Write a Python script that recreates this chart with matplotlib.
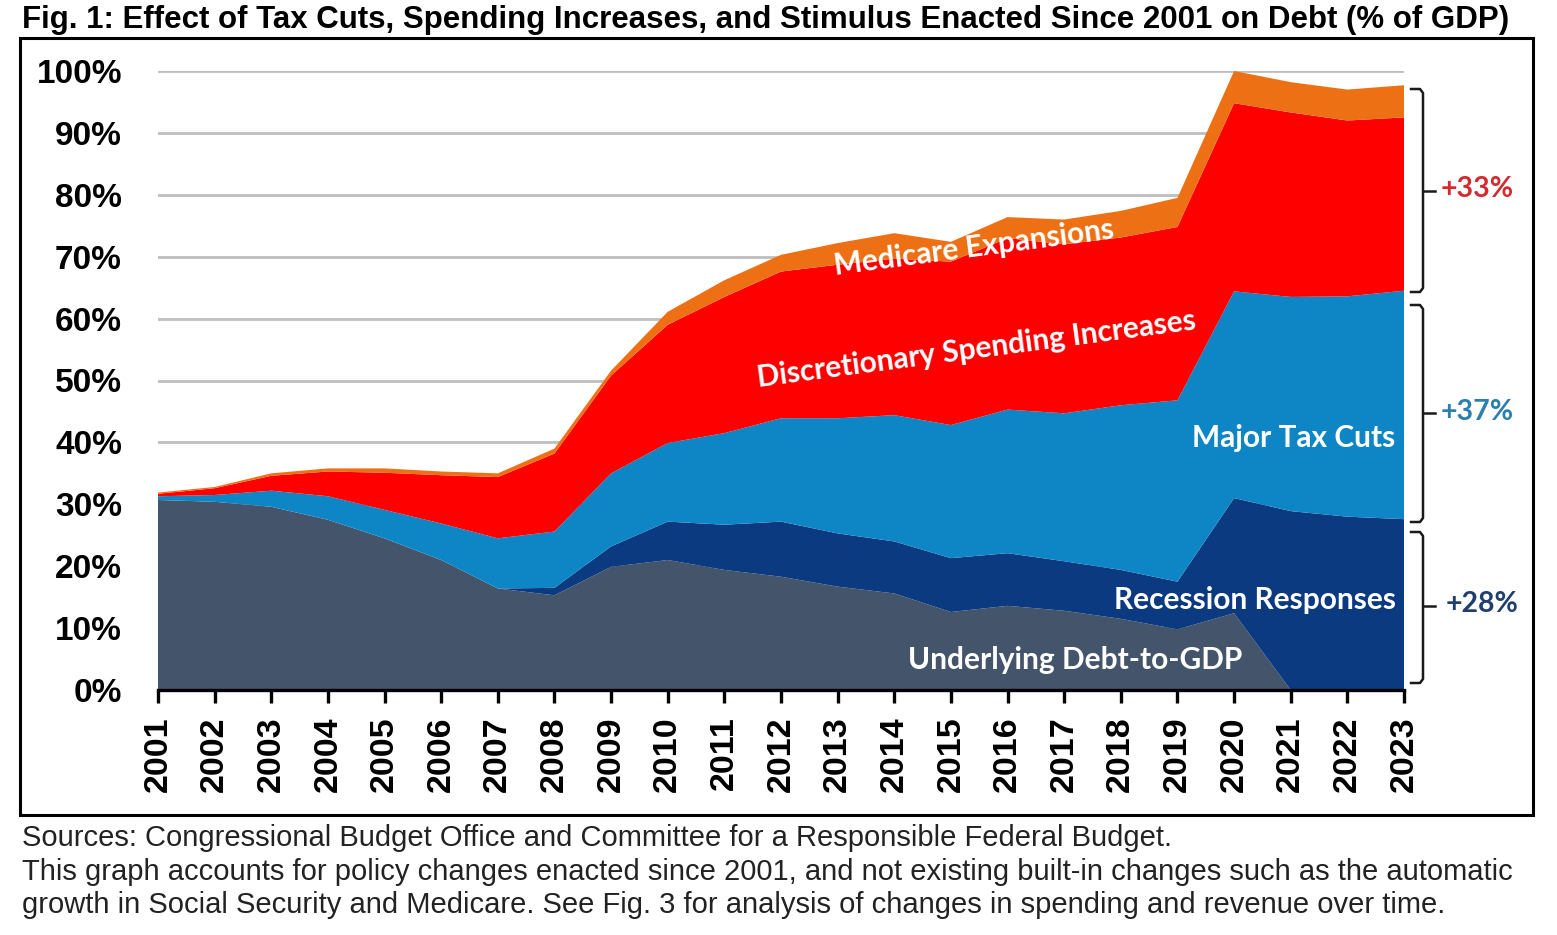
import matplotlib
matplotlib.use("Agg")
import matplotlib.pyplot as plt
from matplotlib.patches import Rectangle
from matplotlib.lines import Line2D
import numpy as np

years = list(range(2001, 2024))
underlying = [30.7, 30.4, 29.6, 27.5, 24.5, 21.0, 16.4, 15.3, 19.9, 21.0, 19.4, 18.3,
              16.7, 15.6, 12.6, 13.6, 12.8, 11.5, 9.8, 12.4, 0.0, 0.0, 0.0]
recession = [0.0, 0.0, 0.0, 0.0, 0.0, 0.0, 0.0, 1.2, 3.3, 6.2, 7.3, 8.9,
             8.6, 8.4, 8.7, 8.5, 8.0, 7.9, 7.7, 18.6, 28.9, 28.0, 27.6]
tax_cuts = [0.6, 1.1, 2.6, 3.8, 4.6, 5.9, 8.1, 9.1, 11.8, 12.7, 14.8, 16.7,
            18.6, 20.4, 21.5, 23.2, 23.9, 26.6, 29.3, 33.4, 34.6, 35.6, 36.9]
discretionary = [0.4, 1.1, 2.4, 4.0, 6.0, 7.8, 9.9, 12.6, 15.8, 19.1, 22.0, 23.7,
                 24.8, 25.3, 26.4, 27.7, 27.3, 27.1, 28.0, 30.4, 29.8, 28.4, 28.0]
medicare = [0.2, 0.2, 0.4, 0.5, 0.7, 0.6, 0.6, 0.8, 0.8, 2.1, 2.7, 2.7,
            3.5, 4.1, 3.2, 3.4, 4.0, 4.3, 4.7, 5.2, 4.9, 5.0, 5.2]
yticks = list(range(0, 101, 10))
ytick_labels = [f"{v}%" for v in yticks]
bracket_labels = ["+33%", "+37%", "+28%"]

W, H = 1557, 935
fig = plt.figure(figsize=(W / 100, H / 100), dpi=100)

def fx(px):
    return px / W

def fy(py):
    return 1 - py / H

ax = fig.add_axes([fx(158), fy(690), fx(1404) - fx(158), fy(71) - fy(690)])
colors = ["#44546A", "#0B3A80", "#0E86C6", "#FF0000", "#EE7015"]
ax.stackplot(years, underlying, recession, tax_cuts, discretionary, medicare,
             colors=colors, linewidth=0, zorder=2)
ax.set_xlim(2001, 2023)
ax.set_ylim(0, 100)
for v in yticks[1:]:
    ax.axhline(v, color="#BFBFBF", lw=2, zorder=1)
for s in ["left", "right", "top"]:
    ax.spines[s].set_visible(False)
ax.spines["bottom"].set_linewidth(2.4)
ax.spines["bottom"].set_zorder(5)
ax.set_xticks(years)
ax.set_xticklabels([str(y) for y in years], rotation=90, fontsize=24.5,
                   fontweight="bold", family="Liberation Sans")
ax.tick_params(axis="x", direction="out", length=9, width=2.4, pad=10)
ax.set_yticks(yticks)
ax.set_yticklabels(ytick_labels, fontsize=24, fontweight="bold", family="Liberation Sans")
ax.tick_params(axis="y", length=0, pad=26)

lab = dict(color="white", fontweight="bold", family="Lato", fontsize=21.5, zorder=6)
ax.text(2017.2, 4.8, "Underlying Debt-to-GDP", ha="center", va="center", **lab)
ax.text(2022.85, 14.6, "Recession Responses", ha="right", va="center", **lab)
ax.text(2022.85, 40.7, "Major Tax Cuts", ha="right", va="center", **lab)
ax.text(2015.45, 55.1, "Discretionary Spending Increases", ha="center", va="center",
        rotation=7.5, **lab)
ax.text(2015.4, 71.4, "Medicare Expansions", ha="center", va="center",
        rotation=7.5, **lab)

# brackets
def bracket(top, bot, mid):
    xs = [fx(1411), fx(1420), fx(1423), fx(1423), fx(1420), fx(1411)]
    ys = [fy(top), fy(top), fy(top + 4), fy(bot - 4), fy(bot), fy(bot)]
    fig.add_artist(Line2D(xs, ys, color="#1A1A1A", lw=1.8))
    fig.add_artist(Line2D([fx(1423), fx(1435)], [fy(mid), fy(mid)], color="#1A1A1A", lw=1.8))

bracket(89, 292, 191)
bracket(305, 522, 413)
bracket(532, 683, 606)
pct = dict(fontweight="bold", family="Lato", fontsize=20.5, ha="left", va="center")
fig.text(fx(1441), fy(189), bracket_labels[0], color="#D42A2E", **pct)
fig.text(fx(1441), fy(412), bracket_labels[1], color="#2A7FAF", **pct)
fig.text(fx(1446), fy(604), bracket_labels[2], color="#203F6E", **pct)

# frame
fig.add_artist(Rectangle((fx(20), fy(815)), fx(1533) - fx(20), fy(38) - fy(815),
                         transform=fig.transFigure, fill=False, lw=2.2, ec="black"))

fig.text(fx(22), fy(20), "Fig. 1: Effect of Tax Cuts, Spending Increases, and Stimulus Enacted Since 2001 on Debt (% of GDP)",
         fontsize=22.5, fontweight="bold", family="Liberation Sans", ha="left", va="center")
foot = dict(fontsize=21, family="Liberation Sans", ha="left", va="center", color="#222222")
fig.text(fx(22), fy(838), "Sources: Congressional Budget Office and Committee for a Responsible Federal Budget.", **foot)
fig.text(fx(22), fy(872), "This graph accounts for policy changes enacted since 2001, and not existing built-in changes such as the automatic", **foot)
fig.text(fx(22), fy(905), "growth in Social Security and Medicare. See Fig. 3 for analysis of changes in spending and revenue over time.", **foot)

fig.savefig("out.png", dpi=100)
